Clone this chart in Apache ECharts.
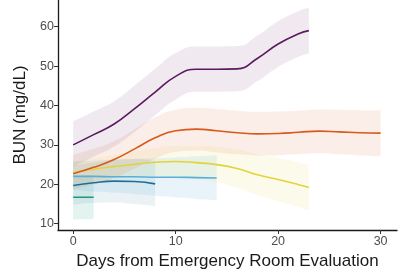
<!DOCTYPE html>
<html>
<head>
<meta charset="utf-8">
<script src="https://cdn.jsdelivr.net/npm/echarts@6/dist/echarts.min.js"></script>
<style>
  html, body { margin: 0; padding: 0; background: #fff; }
  #main { width: 400px; height: 276px; }
</style>
</head>
<body>
<div id="main"></div>
<script>
// days axis ticks
var xTicks = [0, 10, 20, 30]
var yTicks = [10, 20, 30, 40, 50, 60]

// group 1 (purple)
var purpleX = [0, 2, 4, 6, 8, 10, 12, 14, 16, 18, 20, 22, 23]
var purpleMean = [30.0, 32.6, 35.3, 39.2, 43.4, 47.4, 49.2, 49.2, 49.3, 52.0, 55.6, 58.2, 59.0]
var purpleLow = [24.5, 27.0, 29.6, 33.3, 37.5, 41.5, 43.5, 43.5, 43.6, 46.2, 49.8, 52.4, 53.2]
var purpleHigh = [36.0, 38.5, 41.1, 45.1, 49.3, 53.3, 55.0, 55.0, 55.1, 57.8, 61.4, 64.0, 64.8]

// group 2 (orange)
var orangeX = [0, 2, 4, 6, 8, 10, 12, 14, 16, 18, 20, 22, 24, 26, 28, 30]
var orangeMean = [22.7, 24.3, 26.3, 29.0, 31.8, 33.6, 34.0, 33.6, 33.1, 32.8, 32.9, 33.2, 33.5, 33.3, 33.1, 33.0]
var orangeLow = [18.7, 20.0, 21.6, 24.0, 26.5, 28.2, 28.6, 28.1, 27.6, 27.3, 27.4, 27.7, 27.9, 27.6, 27.3, 27.1]
var orangeHigh = [27.5, 29.0, 31.0, 34.0, 37.0, 38.9, 39.4, 39.1, 38.7, 38.4, 38.5, 38.7, 39.0, 38.9, 38.8, 38.8]

// group 3 (yellow)
var yellowX = [0, 2, 4, 6, 8, 10, 12, 14, 16, 18, 20, 22, 23]
var yellowMean = [23.0, 23.8, 24.5, 25.1, 25.6, 25.8, 25.5, 25.0, 24.0, 22.4, 21.2, 19.9, 19.2]
var yellowLow = [20.3, 21.0, 21.5, 21.8, 22.0, 21.9, 21.3, 20.5, 19.1, 17.2, 15.7, 14.2, 13.4]
var yellowHigh = [25.7, 26.6, 27.5, 28.4, 29.2, 29.7, 29.7, 29.5, 28.9, 27.6, 26.7, 25.6, 25.0]

// group 4 (light blue)
var lblueX = [0, 2, 4, 6, 8, 10, 12, 14]
var lblueMean = [22.0, 22.0, 21.9, 21.9, 21.8, 21.8, 21.7, 21.6]
var lblueLow = [18.5, 18.2, 17.9, 17.5, 17.1, 16.7, 16.3, 16.0]
var lblueHigh = [25.8, 26.0, 26.2, 26.4, 26.6, 26.8, 27.1, 27.4]

// group 5 (dark blue)
var dblueX = [0, 2, 4, 6, 8]
var dblueMean = [19.7, 20.4, 20.8, 20.7, 20.1]
var dblueLow = [14.8, 15.3, 15.4, 15.0, 14.5]
var dblueHigh = [24.8, 25.5, 26.2, 26.4, 25.9]

// group 6 (green)
var greenX = [0, 2]
var greenMean = [16.7, 16.7]
var greenLow = [11.1, 11.1]
var greenHigh = [22.3, 22.3]

var groups = [
  { id: 'g6', color: '#1a9a80', op: 0.12, x: greenX, mean: greenMean, low: greenLow, high: greenHigh },
  { id: 'g5', color: '#1f6f93', op: 0.09, x: dblueX, mean: dblueMean, low: dblueLow, high: dblueHigh },
  { id: 'g4', color: '#5aafd9', op: 0.14, x: lblueX, mean: lblueMean, low: lblueLow, high: lblueHigh },
  { id: 'g3', color: '#e3d33a', op: 0.10, x: yellowX, mean: yellowMean, low: yellowLow, high: yellowHigh },
  { id: 'g2', color: '#d9591c', op: 0.10, x: orangeX, mean: orangeMean, low: orangeLow, high: orangeHigh },
  { id: 'g1', color: '#5b1a5e', op: 0.09, x: purpleX, mean: purpleMean, low: purpleLow, high: purpleHigh }
]

function pairs(xs, ys) {
  var out = []
  for (var i = 0; i < xs.length; i++) out.push([xs[i], ys[i]])
  return out
}
// value first so that the stack goes on y (first numeric dim)
function flipped(xs, ys) {
  var out = []
  for (var i = 0; i < xs.length; i++) out.push([ys[i], xs[i]])
  return out
}

var series = []
groups.forEach(function(g) {
  var diff = []
  for (var i = 0; i < g.x.length; i++) diff.push(+(g.high[i] - g.low[i]).toFixed(2))
  series.push({
    type: 'line', stack: g.id, data: flipped(g.x, g.low), encode: { x: 1, y: 0 },
    smooth: true, smoothConstraint: false, showSymbol: false, silent: true, lineStyle: { opacity: 0 }, z: 1
  })
  series.push({
    type: 'line', stack: g.id, data: flipped(g.x, diff), encode: { x: 1, y: 0 },
    smooth: true, smoothConstraint: false, showSymbol: false, silent: true, lineStyle: { opacity: 0 },
    areaStyle: { color: g.color, opacity: g.op }, z: 1
  })
})
groups.forEach(function(g) {
  series.push({
    type: 'line', data: pairs(g.x, g.mean), smooth: true, smoothConstraint: false,
    showSymbol: false, silent: true,
    lineStyle: { color: g.color, width: 1.6 }, z: 3
  })
})

var myChart = echarts.init(document.getElementById('main'))
var font = 'Liberation Sans'
var option = {
  animation: false,
  backgroundColor: '#fff',
  textStyle: { fontFamily: font },
  grid: { left: 58, right: 3, top: 0, bottom: 46 },
  xAxis: {
    type: 'value',
    min: -1.48,
    max: 31.6,
    name: 'Days from Emergency Room Evaluation',
    nameLocation: 'middle',
    nameGap: 23,
    nameTextStyle: { fontSize: 17, color: '#1a1a1a', fontFamily: font },
    axisLine: { show: true, onZero: false, lineStyle: { color: '#1a1a1a', width: 1.3 } },
    axisTick: { show: true, length: 4, customValues: xTicks, lineStyle: { color: '#333' } },
    axisLabel: { customValues: xTicks, fontSize: 12.5, color: '#4d4d4d', margin: 5, fontFamily: font },
    splitLine: { show: false }
  },
  yAxis: {
    type: 'value',
    min: 8.4,
    max: 66.78,
    name: 'BUN (mg/dL)',
    nameLocation: 'middle',
    nameGap: 26,
    nameRotate: 90,
    nameTextStyle: { fontSize: 17, color: '#1a1a1a', fontFamily: font },
    axisLine: { show: true, onZero: false, lineStyle: { color: '#1a1a1a', width: 1.3 } },
    axisTick: { show: true, length: 4, customValues: yTicks, lineStyle: { color: '#333' } },
    axisLabel: { customValues: yTicks, fontSize: 12.5, color: '#4d4d4d', margin: 4, fontFamily: font },
    splitLine: { show: false }
  },
  series: series
}
myChart.setOption(option)
</script>
</body>
</html>
